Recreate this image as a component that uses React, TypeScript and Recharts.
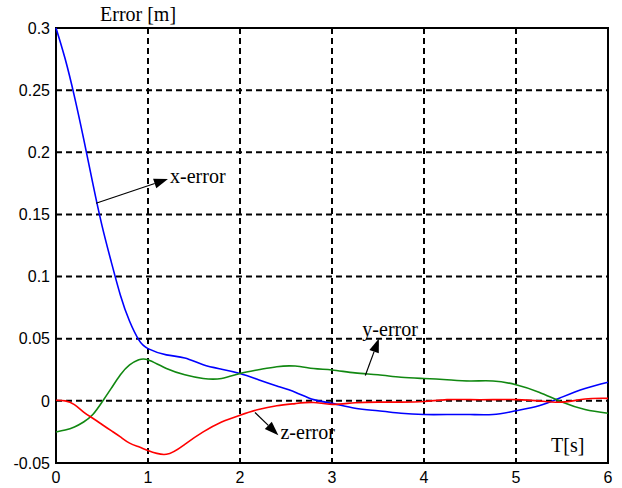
import {
  LineChart,
  Line,
  XAxis,
  YAxis,
  CartesianGrid,
  ReferenceArea,
  ReferenceLine,
  ReferenceDot,
} from 'recharts'

const times = [
  0, 0.1, 0.2, 0.3, 0.4, 0.5, 0.6, 0.7, 0.8, 0.9, 1.0, 1.2, 1.4, 1.6, 1.8, 2.0, 2.2,
  2.4, 2.6, 2.8, 3.0, 3.25, 3.5, 3.75, 4.0, 4.25, 4.5, 4.75, 5.0, 5.25, 5.5, 5.75, 6.0,
]

const xError = [
  0.3, 0.275, 0.245, 0.211, 0.175, 0.141, 0.112, 0.085, 0.064, 0.049, 0.042, 0.037,
  0.0345, 0.029, 0.0255, 0.022, 0.017, 0.012, 0.007, 0.001, -0.002, -0.006, -0.008,
  -0.01, -0.011, -0.011, -0.011, -0.011, -0.008, -0.004, 0.003, 0.01, 0.015,
]

const yError = [
  -0.025, -0.0235, -0.021, -0.017, -0.011, -0.001, 0.01, 0.021, 0.029, 0.033, 0.033,
  0.026, 0.021, 0.018, 0.018, 0.022, 0.025, 0.0275, 0.028, 0.026, 0.0248, 0.0225, 0.021,
  0.019, 0.018, 0.017, 0.016, 0.016, 0.013, 0.007, -0.001, -0.007, -0.01,
]

const zError = [
  0.0005, 0, -0.003, -0.009, -0.014, -0.019, -0.024, -0.029, -0.034, -0.037, -0.04,
  -0.043, -0.035, -0.025, -0.017, -0.0115, -0.007, -0.004, -0.0022, -0.0013, -0.0028,
  -0.0015, -0.001, -0.001, -0.0005, 0.001, 0.001, 0.001, 0.001, 0, -0.001, 0.0015, 0.002,
]

const xTicks = [0, 1, 2, 3, 4, 5, 6]
const yTicks = [-0.05, 0, 0.05, 0.1, 0.15, 0.2, 0.25, 0.3]

// annotation: label, text anchor point, arrow start, arrow tip (data units)
const annotations = [
  { name: 'x-error', text: [1.24, 0.175], from: [0.435, 0.159], to: [1.217, 0.1785] },
  { name: 'y-error', text: [3.33, 0.0525], from: [3.362, 0.0204], to: [3.51, 0.0502] },
  { name: 'z-error', text: [2.44, -0.0306], from: [2.163, -0.0094], to: [2.417, -0.0276] },
]

const chartData = times.map((t, i) => ({
  t,
  x: xError[i],
  y: yError[i],
  z: zError[i],
}))

const serif = '"Liberation Serif", "Times New Roman", serif'
const sans = '"Liberation Sans", Arial, sans-serif'

function Arrow(props: any) {
  const { x1, y1, x2, y2 } = props
  const ang = Math.atan2(y2 - y1, x2 - x1)
  const len = 14
  const half = 5
  const bx = x2 - len * Math.cos(ang)
  const by = y2 - len * Math.sin(ang)
  const px = -Math.sin(ang) * half
  const py = Math.cos(ang) * half
  return (
    <g>
      <line x1={x1} y1={y1} x2={bx} y2={by} stroke="#000" strokeWidth={1.2} />
      <polygon
        points={`${x2},${y2} ${bx + px},${by + py} ${bx - px},${by - py}`}
        fill="#000"
      />
    </g>
  )
}

export default function App() {
  return (
    <div style={{ position: 'absolute', left: 0, top: 0, width: 622, height: 488, background: '#fff' }}>
      <LineChart
        width={622}
        height={488}
        data={chartData}
        margin={{ top: 28, right: 14, bottom: 0, left: 0 }}
      >
        <CartesianGrid
          stroke="#000"
          strokeWidth={2}
          strokeDasharray="6 4"
          horizontalValues={yTicks}
          verticalValues={xTicks}
        />
        <XAxis
          dataKey="t"
          type="number"
          domain={[0, 6]}
          ticks={xTicks}
          height={25}
          axisLine={false}
          tickLine={false}
          tickMargin={3}
          tick={{ fill: '#000', fontSize: 16, fontFamily: sans }}
        />
        <YAxis
          type="number"
          domain={[-0.05, 0.3]}
          ticks={yTicks}
          width={56}
          axisLine={false}
          tickLine={false}
          tickMargin={0}
          tick={{ fill: '#000', fontSize: 16, fontFamily: sans }}
        />
        <ReferenceArea
          x1={0}
          x2={6}
          y1={-0.05}
          y2={0.3}
          fill="none"
          fillOpacity={0}
          stroke="#000"
          strokeWidth={2}
        />
        <Line type="natural" dataKey="x" stroke="#0000ff" strokeWidth={1.6} dot={false} isAnimationActive={false} />
        <Line type="natural" dataKey="y" stroke="#118811" strokeWidth={1.6} dot={false} isAnimationActive={false} />
        <Line type="natural" dataKey="z" stroke="#ff0000" strokeWidth={1.6} dot={false} isAnimationActive={false} />
        {annotations.map((a) => (
          <ReferenceLine
            key={`arrow-${a.name}`}
            segment={[
              { x: a.from[0], y: a.from[1] },
              { x: a.to[0], y: a.to[1] },
            ]}
            ifOverflow="visible"
            shape={(p: any) => <Arrow {...p} />}
          />
        ))}
        {annotations.map((a) => (
          <ReferenceDot
            key={`text-${a.name}`}
            x={a.text[0]}
            y={a.text[1]}
            r={0}
            fill="none"
            stroke="none"
            ifOverflow="visible"
            label={(p: any) => (
              <text
                x={p.viewBox.x}
                y={p.viewBox.y}
                fontFamily={serif}
                fontSize={20}
                fill="#000"
              >
                {a.name}
              </text>
            )}
          />
        ))}
      </LineChart>
      <div
        style={{
          position: 'absolute',
          left: 100,
          top: 2,
          fontFamily: serif,
          fontSize: 20,
          lineHeight: '24px',
          color: '#000',
        }}
      >
        Error [m]
      </div>
      <div
        style={{
          position: 'absolute',
          left: 551,
          top: 433,
          fontFamily: serif,
          fontSize: 20,
          lineHeight: '24px',
          color: '#000',
        }}
      >
        T[s]
      </div>
    </div>
  )
}
